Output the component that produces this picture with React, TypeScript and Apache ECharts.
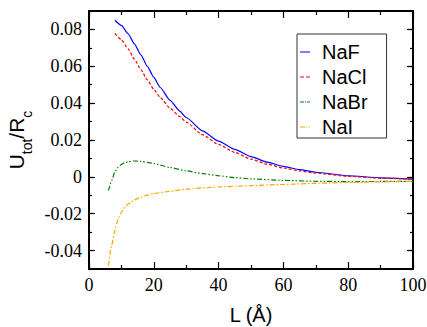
import React, { useEffect, useRef } from "react";
import * as echarts from "echarts";

const L_A: number[] = [8, 10, 12, 14, 16, 18, 20, 22, 25, 28, 30, 35, 40, 45, 50, 55, 60, 65, 70, 80, 90, 100];
const naF: number[] = [0.085, 0.0822, 0.0778, 0.0722, 0.0662, 0.06, 0.054, 0.0485, 0.0415, 0.0357, 0.0322, 0.025, 0.0194, 0.0149, 0.011, 0.008, 0.0057, 0.0039, 0.0025, 0.0006, -0.0005, -0.0012];
const naCl: number[] = [0.0778, 0.0744, 0.0696, 0.0639, 0.0582, 0.0526, 0.0475, 0.043, 0.0373, 0.0327, 0.0297, 0.0229, 0.0176, 0.0133, 0.0096, 0.0069, 0.0048, 0.0032, 0.002, 0.0003, -0.0007, -0.0013];

const L_B: number[] = [6, 7, 8, 9, 10, 11, 12, 14, 16, 18, 20, 25, 30, 35, 40, 45, 50, 60, 70, 80, 90, 100];
const naBr: number[] = [-0.0075, -0.002, 0.0028, 0.0052, 0.0068, 0.0077, 0.0082, 0.0086, 0.0084, 0.0079, 0.0072, 0.0051, 0.0033, 0.0018, 0.0006, -0.0004, -0.0011, -0.0019, -0.0024, -0.0026, -0.0025, -0.0024];
const naI: number[] = [-0.048, -0.037, -0.029, -0.0228, -0.0192, -0.0166, -0.0148, -0.0125, -0.0111, -0.0099, -0.009, -0.0078, -0.0067, -0.006, -0.0055, -0.0051, -0.0048, -0.0041, -0.0035, -0.003, -0.0027, -0.0024];

const xTicks = { min: 0, max: 100, interval: 20 };
const yFull = { min: -0.05, max: 0.09, interval: 0.01 };
const yLabeled = { min: -0.04, max: 0.08, interval: 0.02 };

const SERIF = "'Liberation Serif', 'Times New Roman', serif";
const SANS = "'Liberation Sans', Arial, sans-serif";

function pairs(xs: number[], ys: number[]) {
  return xs.map((x, i) => [x, ys[i]]);
}

export default function App() {
  const ref = useRef<HTMLDivElement>(null);
  useEffect(() => {
    if (!ref.current) return;
    const chart = echarts.init(ref.current, null, { renderer: "svg" });
    const plotTop = 11;
    const plotBottom = 58;
    const plotH = 327 - plotTop - plotBottom;
    const unit = plotH / 14;
    const fmt = (v: number) => (Math.abs(v) < 1e-9 ? "0" : v.toFixed(2));
    const tickStyle = { color: "#000", width: 1.2 };
    const lineBase = (name: string, data: number[][], color: string, type: any) => ({
      name,
      type: "line",
      data,
      xAxisIndex: 0,
      yAxisIndex: 0,
      showSymbol: false,
      symbol: "none",
      smooth: 0.2,
      smoothMonotone: "x",
      lineStyle: { color, width: 1.2, type },
      itemStyle: { color },
    });
    chart.setOption({
      animation: false,
      backgroundColor: "#fff",
      grid: [
        { left: 89, right: 14, top: plotTop, bottom: plotBottom, show: true, borderColor: "#000", borderWidth: 2, backgroundColor: "transparent", containLabel: false, outerBoundsMode: "none" },
        { left: 89, right: 14, top: plotTop + unit, bottom: plotBottom + unit, show: false, containLabel: false, outerBoundsMode: "none" },
      ],
      xAxis: [
        {
          gridIndex: 0, type: "value", position: "bottom", ...xTicks,
          axisLine: { show: false, onZero: false },
          axisTick: { show: true, inside: true, length: 7, lineStyle: tickStyle },
          minorTick: { show: true, splitNumber: 2, length: 4, lineStyle: tickStyle },
          splitLine: { show: false },
          axisLabel: { color: "#000", fontFamily: SERIF, fontSize: 18, margin: 7 },
          name: "L (Å)", nameLocation: "middle", nameGap: 36,
          nameTextStyle: { color: "#000", fontFamily: SANS, fontSize: 20, lineHeight: 20 },
        },
        {
          gridIndex: 0, type: "value", position: "top", ...xTicks,
          axisLine: { show: false, onZero: false },
          axisTick: { show: true, inside: true, length: 7, lineStyle: tickStyle },
          minorTick: { show: true, splitNumber: 2, length: 4, lineStyle: tickStyle },
          splitLine: { show: false },
          axisLabel: { show: false },
        },
        { gridIndex: 1, type: "value", ...xTicks, show: false },
      ],
      yAxis: [
        {
          gridIndex: 0, type: "value", position: "left", ...yFull,
          axisLine: { show: false, onZero: false },
          axisTick: { show: true, inside: true, length: 3, lineStyle: tickStyle },
          splitLine: { show: false },
          axisLabel: { show: false },
          name: "{m|U}{s|tot}{m|/R}{s|c}", nameLocation: "middle", nameGap: 55, nameRotate: 90,
          nameTextStyle: {
            color: "#000",
            rich: {
              m: { fontFamily: SANS, fontSize: 21, lineHeight: 28, verticalAlign: "middle", color: "#000" },
              s: { fontFamily: SANS, fontSize: 14, lineHeight: 36, verticalAlign: "bottom", color: "#000" },
            },
          },
        },
        {
          gridIndex: 0, type: "value", position: "right", ...yFull,
          axisLine: { show: false, onZero: false },
          axisTick: { show: true, inside: true, length: 3, lineStyle: tickStyle },
          splitLine: { show: false },
          axisLabel: { show: false },
        },
        {
          gridIndex: 1, type: "value", position: "left", ...yLabeled,
          axisLine: { show: false, onZero: false },
          axisTick: { show: true, inside: true, length: 6, lineStyle: tickStyle },
          splitLine: { show: false },
          axisLabel: { color: "#000", fontFamily: SERIF, fontSize: 18, margin: 7, formatter: fmt },
        },
        {
          gridIndex: 1, type: "value", position: "right", ...yLabeled,
          axisLine: { show: false, onZero: false },
          axisTick: { show: true, inside: true, length: 6, lineStyle: tickStyle },
          splitLine: { show: false },
          axisLabel: { show: false },
        },
      ],
      legend: {
        orient: "vertical",
        left: 297,
        top: 34,
        padding: [8, 19, 1, 3],
        itemWidth: 10,
        itemHeight: 1.5,
        itemGap: 5,
        borderColor: "#333",
        borderWidth: 1,
        backgroundColor: "#fff",
        formatter: (name: string) => `{g|}{t|${name}}`,
        textStyle: {
          fontFamily: SANS, fontSize: 20, color: "#000", lineHeight: 20,
          rich: {
            g: { width: 7, height: 20 },
            t: { fontFamily: SANS, fontSize: 20, color: "#000", lineHeight: 20 },
          },
        },
        data: [
          { name: "NaF", icon: "path://M0,0H10V1H0Z" },
          { name: "NaCl", icon: "path://M0,0H4V1H0Z M6,0H10V1H6Z" },
          { name: "NaBr", icon: "path://M0,0H4V1H0Z M5,0H6V1H5Z M7,0H10V1H7Z" },
          { name: "NaI", icon: "path://M0,0H5V1H0Z M6.5,0H7.5V1H6.5Z M9,0H10V1H9Z" },
        ],
      },
      series: [
        lineBase("NaF", pairs(L_A, naF), "#0000ff", "solid"),
        lineBase("NaCl", pairs(L_A, naCl), "#ff0000", [3, 2]),
        lineBase("NaBr", pairs(L_B, naBr), "#008000", [5, 2, 1.5, 2, 1.5, 2]),
        lineBase("NaI", pairs(L_B, naI), "#ffa500", [5, 2, 1.5, 2]),
      ],
    });
    return () => chart.dispose();
  }, []);
  return <div ref={ref} style={{ width: 427, height: 327, position: "fixed", left: 0, top: 0 }} />;
}
